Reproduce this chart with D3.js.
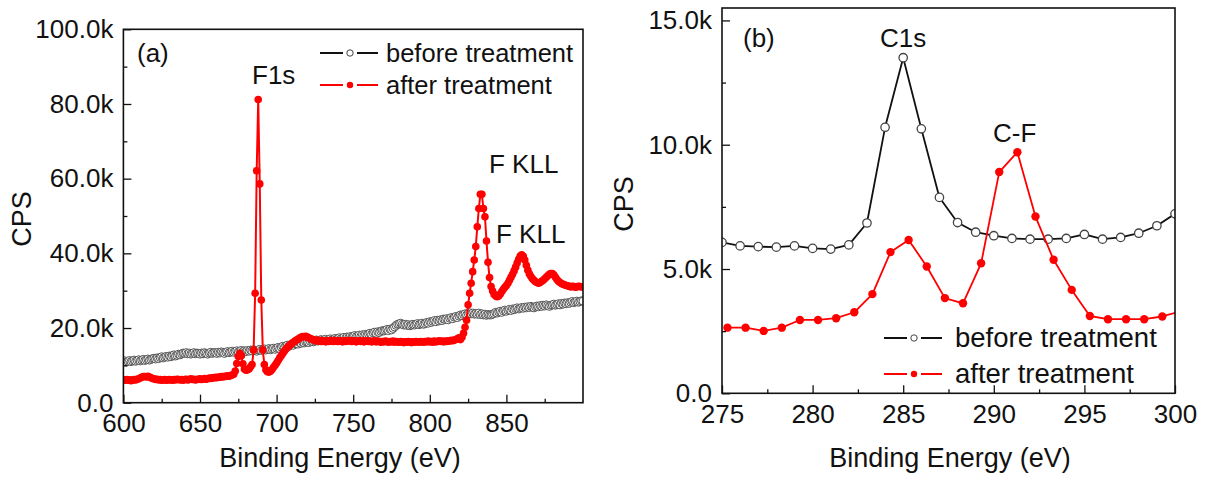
<!DOCTYPE html>
<html>
<head>
<meta charset="utf-8">
<script src="https://cdn.jsdelivr.net/npm/d3@7"></script>
<style>
  body { margin: 0; background: #fff; }
  text { font-family: "Liberation Sans", Arial, sans-serif; fill: #111; }
</style>
</head>
<body>
<svg id="fig" width="1208" height="477"></svg>
<script>
// ---- panel (a): survey scan, 1 eV step from 600 to 900 eV, counts in k ----
var surveyEnergy = d3.range(600, 901);

var surveyBefore = [
  11.0, 11.2, 10.9, 11.1, 11.3, 11.0, 11.2, 11.4, 11.1, 11.3,
  11.5, 11.2, 11.4, 11.6, 11.3, 11.5, 11.7, 11.4, 11.6, 11.8,
  11.9, 11.7, 12.0, 11.8, 12.1, 12.3, 12.0, 12.2, 12.4, 12.2,
  12.5, 12.3, 12.6, 12.8, 12.5, 12.7, 13.0, 12.8, 13.1, 13.3,
  13.2, 13.4, 13.1, 13.3, 13.0, 13.2, 13.4, 13.1, 13.3, 13.2,
  13.0, 13.3, 13.1, 13.4, 13.2, 13.0, 13.3, 13.5, 13.2, 13.4,
  13.4, 13.2, 13.5, 13.3, 13.6, 13.4, 13.2, 13.5, 13.7, 13.4,
  13.6, 13.8, 13.5, 13.7, 13.9, 13.6, 13.8, 14.0, 13.7, 13.9,
  13.7, 14.0, 13.8, 14.1, 13.9, 14.2, 14.0, 13.8, 14.1, 14.3,
  14.0, 14.2, 14.4, 14.1, 14.3, 14.5, 14.2, 14.4, 14.6, 14.3,
  14.6, 14.8, 14.5, 14.9, 15.1, 14.8, 15.2, 15.4, 15.1, 15.5,
  15.6, 15.4, 15.8, 16.0, 15.7, 16.1, 15.9, 16.2, 16.0, 16.3,
  16.3, 16.1, 16.4, 16.6, 16.3, 16.5, 16.8, 16.5, 16.7, 16.9,
  16.6, 16.8, 17.0, 16.7, 16.9, 17.1, 16.8, 17.0, 17.2, 16.9,
  17.2, 17.4, 17.1, 17.3, 17.5, 17.2, 17.6, 17.4, 17.7, 17.5,
  17.8, 18.0, 17.7, 17.9, 18.1, 17.8, 18.2, 18.0, 18.3, 18.1,
  18.4, 18.6, 18.3, 18.7, 18.9, 18.6, 19.0, 18.8, 19.1, 19.3,
  19.2, 19.4, 19.6, 19.3, 19.7, 19.5, 19.9, 20.3, 20.7, 21.0,
  21.1, 21.3, 21.0, 20.8, 21.0, 20.7, 20.9, 20.6, 20.8, 21.0,
  20.8, 21.0, 21.2, 20.9, 21.1, 21.3, 21.0, 21.2, 21.5, 21.3,
  21.7, 21.5, 21.8, 22.0, 21.7, 22.1, 21.9, 22.2, 22.0, 22.4,
  22.3, 22.5, 22.2, 22.6, 22.8, 22.5, 22.9, 23.1, 22.8, 23.2,
  23.5, 23.3, 23.6, 23.8, 23.5, 23.9, 24.1, 23.8, 24.0, 23.7,
  23.9, 23.7, 24.0, 23.6, 23.8, 23.5, 23.7, 23.4, 23.6, 23.5,
  23.5, 23.7, 23.9, 24.2, 24.0, 24.3, 24.5, 24.2, 24.6, 24.8,
  24.5, 24.8, 25.0, 24.7, 25.1, 24.9, 25.2, 25.4, 25.1, 25.3,
  25.5, 25.3, 25.6, 25.4, 25.7, 25.5, 25.8, 25.6, 25.4, 25.7,
  25.9, 25.7, 26.0, 25.8, 26.1, 25.9, 26.2, 26.0, 25.8, 26.1,
  26.2, 26.4, 26.1, 26.3, 26.5, 26.2, 26.6, 26.4, 26.7, 26.5,
  26.8, 26.6, 26.9, 27.1, 26.8, 27.0, 27.2, 26.9, 27.1, 27.3,
  27.2
];

var surveyAfter = [
  6.1, 6.0, 6.2, 6.0, 6.1, 5.9, 6.0, 6.2, 6.1, 6.3,
  6.4, 6.6, 6.8, 7.0, 7.0, 6.9, 7.1, 6.9, 6.7, 6.5,
  6.4, 6.2, 6.3, 6.1, 6.2, 6.0, 6.1, 6.2, 6.0, 6.1,
  6.2, 6.1, 6.0, 6.2, 6.1, 6.3, 6.2, 6.1, 6.2, 6.0,
  6.2, 6.3, 6.1, 6.2, 6.4, 6.2, 6.3, 6.1, 6.2, 6.3,
  6.4, 6.2, 6.3, 6.5, 6.3, 6.4, 6.6, 6.5, 6.7, 6.6,
  6.8, 6.7, 6.9, 6.8, 7.0, 6.9, 7.1, 7.0, 7.2, 7.1,
  7.3, 7.4, 7.6, 8.5, 10.5, 12.4, 13.2, 12.6, 10.4, 9.0,
  8.7, 8.8, 9.0, 9.6, 10.2, 14.1, 29.3, 62.1, 81.2, 58.6,
  27.5, 14.1, 10.2, 8.8, 8.3, 8.2, 8.4, 8.9, 9.5, 10.0,
  10.6, 11.3, 12.0, 12.6, 13.2, 13.8, 14.3, 14.8, 15.2, 15.5,
  15.9, 16.2, 16.5, 16.8, 17.0, 17.3, 17.5, 17.7, 17.6, 17.8,
  17.6, 17.4, 17.2, 17.0, 16.9, 16.6, 16.8, 16.5, 16.7, 16.4,
  16.6, 16.5, 16.3, 16.6, 16.4, 16.5, 16.7, 16.4, 16.5, 16.6,
  16.4, 16.6, 16.5, 16.3, 16.6, 16.4, 16.5, 16.7, 16.5, 16.4,
  16.6, 16.5, 16.3, 16.5, 16.6, 16.4, 16.5, 16.3, 16.6, 16.5,
  16.4, 16.5, 16.3, 16.4, 16.6, 16.3, 16.5, 16.4, 16.2, 16.4,
  16.3, 16.5, 16.4, 16.2, 16.4, 16.3, 16.5, 16.2, 16.4, 16.3,
  16.2, 16.4, 16.3, 16.1, 16.3, 16.2, 16.4, 16.3, 16.1, 16.3,
  16.2, 16.4, 16.3, 16.2, 16.4, 16.3, 16.2, 16.4, 16.3, 16.5,
  16.3, 16.4, 16.2, 16.5, 16.3, 16.4, 16.6, 16.4, 16.5, 16.3,
  16.5, 16.4, 16.6, 16.5, 16.7, 16.6, 16.8, 16.9, 17.1, 17.4,
  16.9, 17.5, 18.6, 20.2, 22.1, 26.2, 29.3, 32.0, 35.1, 38.2,
  41.8, 47.1, 52.0, 55.8, 55.8, 52.0, 49.8, 43.3, 37.6, 33.5,
  31.1, 29.9, 29.0, 28.6, 28.4, 28.6, 29.1, 29.8, 30.4, 30.9,
  31.4, 32.0, 32.8, 33.6, 34.4, 35.3, 36.3, 37.4, 38.4, 39.3,
  39.6, 39.2, 38.2, 36.8, 35.5, 34.5, 33.8, 33.2, 32.8, 32.4,
  32.2, 32.0, 32.2, 32.5, 32.8, 33.2, 33.6, 34.0, 34.4, 34.6,
  34.6, 34.2, 33.6, 33.0, 32.5, 32.2, 31.9, 31.7, 31.6, 31.4,
  31.3, 31.2, 31.0, 31.2, 31.1, 30.9, 31.0, 31.2, 31.1, 31.0,
  31.1
];

// ---- panel (b): C1s region, counts in k ----
var c1sEnergyBefore = [275, 276, 277, 278, 279, 280, 281, 282, 283, 284, 285, 286, 287,
  288, 289, 290, 291, 292, 293, 294, 295, 296, 297, 298, 299, 300];
var c1sBefore = [6.07, 5.93, 5.90, 5.88, 5.93, 5.83, 5.80, 5.97, 6.85, 10.70, 13.50, 10.64, 7.88,
  6.87, 6.48, 6.34, 6.23, 6.20, 6.20, 6.23, 6.39, 6.20, 6.27, 6.44, 6.74, 7.22];

var c1sEnergyAfter = [275.3, 276.3, 277.3, 278.3, 279.3, 280.3, 281.3, 282.3, 283.3, 284.3, 285.3,
  286.3, 287.3, 288.3, 289.3, 290.3, 291.3, 292.3, 293.3, 294.3, 295.3, 296.3, 297.3, 298.3,
  299.3, 300.3];
var c1sAfter = [2.64, 2.64, 2.51, 2.64, 2.95, 2.95, 3.02, 3.26, 3.99, 5.68, 6.17,
  5.10, 3.83, 3.62, 5.23, 8.90, 9.70, 7.11, 5.37, 4.16, 3.11, 2.98, 2.98, 2.98,
  3.09, 3.30];

var seriesNames = ["before treatment", "after treatment"];

var fmtK = d => d === 0 ? "0.0" : d.toFixed(1) + "k";

var svg = d3.select("#fig");

function drawPanel(p) {
  var x = d3.scaleLinear().domain(p.xDomain).range([p.left, p.right]);
  var y = d3.scaleLinear().domain(p.yDomain).range([p.bottom, p.top]);
  var g = svg.append("g");

  g.append("clipPath").attr("id", p.id + "-clip")
    .append("rect")
    .attr("x", p.left).attr("y", p.top)
    .attr("width", p.right - p.left).attr("height", p.bottom - p.top);

  var plot = g.append("g").attr("clip-path", "url(#" + p.id + "-clip)");

  // black first, red drawn over it
  p.series.forEach(s => {
    var pts = s.xs.map((v, i) => [v, s.ys[i]]);
    plot.append("path")
      .attr("fill", "none")
      .attr("stroke", s.color)
      .attr("stroke-width", s.lineWidth)
      .attr("stroke-linejoin", "round")
      .attr("d", d3.line().x(d => x(d[0])).y(d => y(d[1]))(pts));
    plot.selectAll(null)
      .data(pts)
      .enter()
      .append("circle")
      .attr("cx", d => x(d[0]))
      .attr("cy", d => y(d[1]))
      .attr("r", s.r)
      .attr("fill", s.open ? "#fff" : s.color)
      .attr("stroke", s.open ? "#444" : "none")
      .attr("stroke-width", s.open ? s.ringWidth : 0);
  });

  // axes, ticks pointing inward
  var xAx = g.append("g").attr("transform", "translate(0," + p.bottom + ")")
    .call(d3.axisBottom(x).tickValues(p.xTicks).tickSize(-8).tickPadding(11).tickFormat(d3.format("d")));
  g.append("g").attr("transform", "translate(0," + p.bottom + ")")
    .call(d3.axisBottom(x).tickValues(p.xMinor).tickSize(-4).tickFormat(""));
  var yAx = g.append("g").attr("transform", "translate(" + p.left + ",0)")
    .call(d3.axisLeft(y).tickValues(p.yTicks).tickSize(-8).tickPadding(10).tickFormat(fmtK));
  g.append("g").attr("transform", "translate(" + p.left + ",0)")
    .call(d3.axisLeft(y).tickValues(p.yMinor).tickSize(-4).tickFormat(""));

  g.selectAll(".domain").remove();
  g.selectAll(".tick line").attr("stroke", "#111").attr("stroke-width", 1.3);
  xAx.selectAll("text").attr("font-size", 26).attr("fill", "#111");
  yAx.selectAll("text").attr("font-size", 26).attr("fill", "#111");

  g.append("rect")
    .attr("x", p.left).attr("y", p.top)
    .attr("width", p.right - p.left).attr("height", p.bottom - p.top)
    .attr("fill", "none").attr("stroke", "#111").attr("stroke-width", 1.6);

  // axis titles
  g.append("text")
    .attr("x", p.xTitleX).attr("y", 467)
    .attr("text-anchor", "middle").attr("font-size", 27)
    .text("Binding Energy (eV)");
  g.append("text")
    .attr("transform", "translate(" + p.yTitleX + "," + p.yTitleY + ") rotate(-90)")
    .attr("text-anchor", "middle").attr("font-size", 27)
    .text("CPS");

  // annotations
  p.notes.forEach(n => {
    g.append("text").attr("x", n[1]).attr("y", n[2]).attr("font-size", 26).text(n[0]);
  });

  // legend: line, symbol, line, then the name
  p.series.forEach((s, i) => {
    var ly = p.legendY + i * p.legendGap;
    var lx = p.legendX;
    g.append("line").attr("x1", lx).attr("x2", lx + 23).attr("y1", ly).attr("y2", ly)
      .attr("stroke", s.color).attr("stroke-width", 2);
    g.append("line").attr("x1", lx + 37).attr("x2", lx + 58).attr("y1", ly).attr("y2", ly)
      .attr("stroke", s.color).attr("stroke-width", 2);
    g.append("circle").attr("cx", lx + 30).attr("cy", ly).attr("r", 3.2)
      .attr("fill", s.open ? "#fff" : s.color)
      .attr("stroke", s.open ? "#444" : "none").attr("stroke-width", 1);
    g.append("text").attr("x", lx + p.legendTextDx).attr("y", ly + 9)
      .attr("font-size", p.legendFont)
      .text(seriesNames[i]);
  });
}

drawPanel({
  id: "a",
  left: 123.4, right: 583, top: 29.3, bottom: 402.7,
  xDomain: [600, 900], yDomain: [0, 100],
  xTicks: [600, 650, 700, 750, 800, 850],
  xMinor: [625, 675, 725, 775, 825, 875],
  yTicks: [0, 20, 40, 60, 80, 100],
  yMinor: [10, 30, 50, 70, 90],
  xTitleX: 340, yTitleX: 31, yTitleY: 219,
  series: [
    { xs: surveyEnergy, ys: surveyBefore, color: "#111", open: true, r: 4, ringWidth: 0.9, lineWidth: 1 },
    { xs: surveyEnergy, ys: surveyAfter, color: "#ff0000", open: false, r: 3.8, lineWidth: 2 }
  ],
  notes: [["(a)", 137, 62], ["F1s", 252, 84], ["F KLL", 489, 173], ["F KLL", 496, 243]],
  legendX: 320, legendY: 53, legendGap: 32, legendTextDx: 66, legendFont: 25.5
});

drawPanel({
  id: "b",
  left: 722, right: 1175, top: 8, bottom: 393.3,
  xDomain: [275, 300], yDomain: [0, 15.5],
  xTicks: [275, 280, 285, 290, 295, 300],
  xMinor: [277.5, 282.5, 287.5, 292.5, 297.5],
  yTicks: [0, 5, 10, 15],
  yMinor: [2.5, 7.5, 12.5],
  xTitleX: 950, yTitleX: 633, yTitleY: 204,
  series: [
    { xs: c1sEnergyBefore, ys: c1sBefore, color: "#111", open: true, r: 4.2, ringWidth: 1.3, lineWidth: 1.8 },
    { xs: c1sEnergyAfter, ys: c1sAfter, color: "#ff0000", open: false, r: 4.2, lineWidth: 1.8 }
  ],
  notes: [["(b)", 743, 47], ["C1s", 880, 47], ["C-F", 993, 142]],
  legendX: 884, legendY: 338, legendGap: 36, legendTextDx: 71, legendFont: 27.5
});
</script>
</body>
</html>
